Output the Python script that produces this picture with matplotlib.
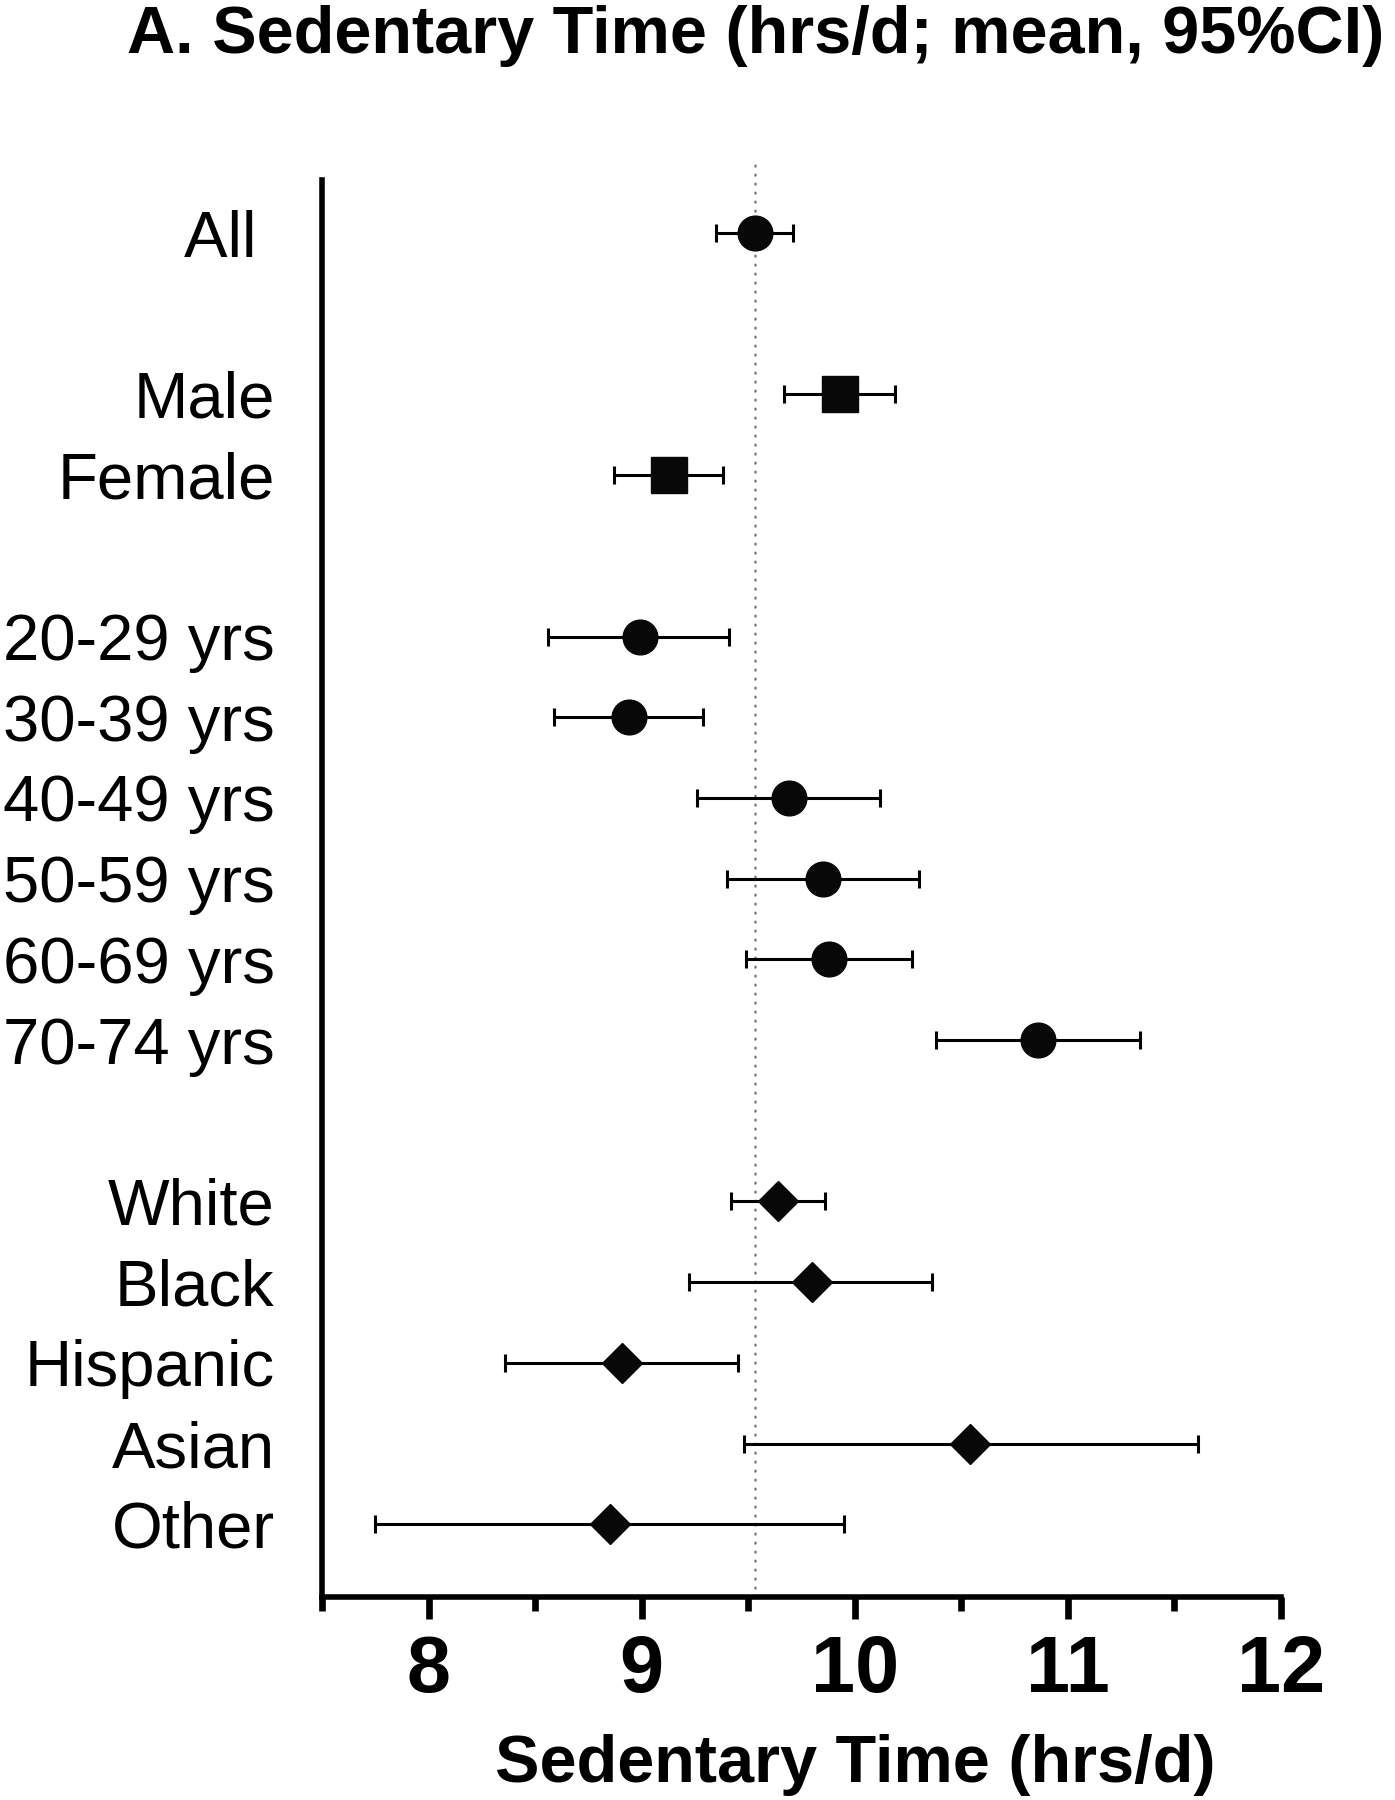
import matplotlib
matplotlib.use("Agg")
import matplotlib.pyplot as plt
from matplotlib.ticker import MultipleLocator

plt.rcParams["font.family"] = ["Liberation Sans", "DejaVu Sans"]

# mean sedentary time and 95% CI, hrs/d
overall_labels = ["All "]
overall_mean = [9.53]
overall_lo = [9.35]
overall_hi = [9.71]

sex_labels = ["Male", "Female"]
sex_mean = [9.93, 9.13]
sex_lo = [9.67, 8.87]
sex_hi = [10.19, 9.38]

age_labels = ["20-29 yrs", "30-39 yrs", "40-49 yrs", "50-59 yrs", "60-69 yrs", "70-74 yrs"]
age_mean = [8.99, 8.94, 9.69, 9.85, 9.88, 10.86]
age_lo = [8.56, 8.59, 9.26, 9.40, 9.49, 10.38]
age_hi = [9.41, 9.29, 10.12, 10.30, 10.27, 11.34]

race_labels = ["White", "Black", "Hispanic", "Asian", "Other"]
race_mean = [9.64, 9.80, 8.91, 10.54, 8.85]
race_lo = [9.42, 9.22, 8.36, 9.48, 7.75]
race_hi = [9.86, 10.36, 9.45, 11.61, 9.95]

groups = [
    (overall_labels, overall_mean, overall_lo, overall_hi, "o", 25),
    (sex_labels, sex_mean, sex_lo, sex_hi, "s", 26.5),
    (age_labels, age_mean, age_lo, age_hi, "o", 25),
    (race_labels, race_mean, race_lo, race_hi, "D", 20),
]

fig = plt.figure(figsize=(13.95, 18), dpi=100)
ax = fig.add_axes([0.2308, 0.1128, 0.6875, 0.7872])

ytick_pos = []
ytick_lab = []
row = 0
for labels, mean, lo, hi, mk, ms in groups:
    ys = list(range(row, row + len(labels)))
    xerr = [[m - l for m, l in zip(mean, lo)], [h - m for m, h in zip(mean, hi)]]
    ax.errorbar(mean, ys, xerr=xerr, fmt=mk, ms=ms, color="#080808",
                ecolor="black", elinewidth=2.2, capsize=6.2, capthick=2.2, zorder=3)
    ytick_pos += ys
    ytick_lab += labels
    row += len(labels) + 1

# reference line at overall mean
ax.axvline(overall_mean[0], ymin=0, ymax=1.0155, color="#7a7a7a", lw=1.8,
           linestyle=(0, (0.3, 3.3)), dash_capstyle="round", clip_on=False, zorder=1)

ax.set_xlim(7.5, 12)
ax.set_ylim(16.90, -0.657)
ax.xaxis.set_major_locator(MultipleLocator(1))
ax.xaxis.set_minor_locator(MultipleLocator(0.5))

ax.set_yticks(ytick_pos)
ax.set_yticklabels(ytick_lab, fontsize=47)
ax.tick_params(axis="y", length=0, pad=34)
ax.tick_params(axis="x", which="major", length=16, width=4.8, labelsize=57, pad=11)
ax.tick_params(axis="x", which="minor", length=10, width=4.8)
for t in ax.get_xticklabels():
    t.set_fontweight("bold")

for s in ["top", "right"]:
    ax.spines[s].set_visible(False)
for s in ["left", "bottom"]:
    ax.spines[s].set_linewidth(4)

ax.set_xlabel("Sedentary Time (hrs/d)", fontsize=48, fontweight="bold", va="baseline")
ax.xaxis.set_label_coords(0.556, -0.1306)

fig.text(0.542, 1 - 53 / 1800, "A. Sedentary Time (hrs/d; mean, 95%CI)",
         fontsize=48, fontweight="bold", ha="center", va="baseline")

fig.savefig("out.png", dpi=100)
